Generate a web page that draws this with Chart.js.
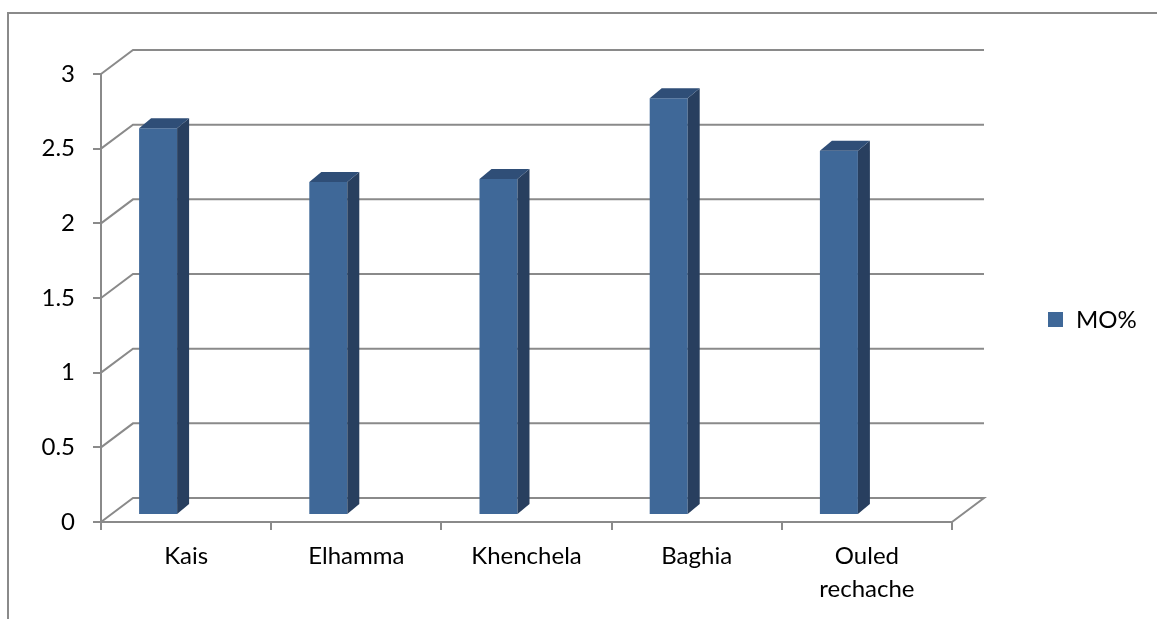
<!DOCTYPE html>
<html><head><meta charset="utf-8">
<script src="https://cdn.jsdelivr.net/npm/chart.js@4"></script>
<style>html,body{margin:0;padding:0;background:#fff;overflow:hidden}canvas{display:block}</style>
</head><body>
<canvas id="c" width="1157" height="619"></canvas>
<script>
// ---- data ----
const categories = ['Kais', 'Elhamma', 'Khenchela', 'Baghia', ['Ouled', 'rechache']];
const seriesName = 'MO%';
const moValues = [2.59, 2.23, 2.25, 2.79, 2.44];
const yTickValues = [0, 0.5, 1, 1.5, 2, 2.5, 3];

// ---- style ----
const FONT = 'Lato, "Open Sans", sans-serif';
const FONT_SIZE = 24;
const GRID = '#8a8a8a';
const FRONT = '#3f6898';
const SIDE = '#283f5f';
const TOP = '#2f4e77';
const WALL_DX = 32, WALL_DY = -24;   // depth of the back wall
const BAR_DX = 12, BAR_DY = -10;     // depth of each bar
const BAR_SHIFT_X = -28, BAR_SHIFT_Y = -7; // bar plane inside the box

const frame3d = {
  id: 'frame3d',
  beforeDraw(chart) {
    const ctx = chart.ctx;
    ctx.save();
    ctx.strokeStyle = GRID;
    ctx.lineWidth = 2;
    ctx.beginPath();
    ctx.moveTo(8, chart.height + 5);
    ctx.lineTo(8, 13);
    ctx.lineTo(chart.width + 5, 13);
    ctx.stroke();
    ctx.restore();
  },
  beforeDatasetsDraw(chart) {
    const ctx = chart.ctx;
    const ys = chart.scales.y;
    const a = chart.chartArea;
    ctx.save();
    ctx.strokeStyle = GRID;
    ctx.lineWidth = 2;
    yTickValues.forEach(v => {
      const y = ys.getPixelForValue(v);
      ctx.beginPath();
      ctx.moveTo(a.left, y);
      ctx.lineTo(a.left + WALL_DX, y + WALL_DY);
      ctx.lineTo(a.right + WALL_DX, y + WALL_DY);
      if (v === 0) ctx.lineTo(a.right, y);
      ctx.stroke();
    });
    ctx.restore();
    ctx.save();
    ctx.translate(BAR_SHIFT_X, BAR_SHIFT_Y);
  },
  afterDatasetsDraw(chart) {
    const ctx = chart.ctx;
    const meta = chart.getDatasetMeta(0);
    meta.data.forEach(bar => {
      const p = bar.getProps(['x', 'y', 'base', 'width'], true);
      const l = p.x - p.width / 2, r = p.x + p.width / 2;
      ctx.fillStyle = SIDE;
      ctx.beginPath();
      ctx.moveTo(r, p.y);
      ctx.lineTo(r + BAR_DX, p.y + BAR_DY);
      ctx.lineTo(r + BAR_DX, p.base + BAR_DY);
      ctx.lineTo(r, p.base);
      ctx.closePath();
      ctx.fill();
      ctx.fillStyle = TOP;
      ctx.beginPath();
      ctx.moveTo(l, p.y);
      ctx.lineTo(l + BAR_DX, p.y + BAR_DY);
      ctx.lineTo(r + BAR_DX, p.y + BAR_DY);
      ctx.lineTo(r, p.y);
      ctx.closePath();
      ctx.fill();
    });
    ctx.restore();
  },
  afterDraw(chart) {
    const ctx = chart.ctx;
    const ds = chart.data.datasets[0];
    ctx.save();
    ctx.fillStyle = ds.backgroundColor;
    ctx.fillRect(1048, 312, 15, 15);
    ctx.fillStyle = '#000';
    ctx.font = FONT_SIZE + 'px ' + FONT;
    ctx.textBaseline = 'middle';
    ctx.textAlign = 'left';
    ctx.fillText(ds.label, 1076, 320);
    ctx.restore();
  }
};

new Chart(document.getElementById('c'), {
  type: 'bar',
  data: {
    labels: categories,
    datasets: [{
      label: seriesName,
      data: moValues,
      backgroundColor: FRONT,
      borderWidth: 0,
      categoryPercentage: 1,
      barPercentage: 38 / 170.2
    }]
  },
  options: {
    responsive: false,
    animation: false,
    devicePixelRatio: 1,
    layout: { padding: { top: 74, right: 205, left: 0, bottom: 0 } },
    plugins: { legend: { display: false }, tooltip: { enabled: false } },
    scales: {
      x: {
        offset: true,
        grid: { offset: true, drawOnChartArea: false, tickLength: 8, color: GRID, lineWidth: 2 },
        border: { display: true, color: GRID, width: 2 },
        ticks: { color: '#000', padding: 10, maxRotation: 0, autoSkip: false,
                 font: { family: FONT, size: FONT_SIZE, lineHeight: 33 / FONT_SIZE } },
        afterFit(s) { s.height = 97; }
      },
      y: {
        min: 0, max: 3,
        afterBuildTicks(s) { s.ticks = yTickValues.map(v => ({ value: v })); },
        grid: { drawOnChartArea: false, tickLength: 8, color: GRID, lineWidth: 2 },
        border: { display: true, color: GRID, width: 2 },
        ticks: { color: '#000', padding: 18, callback: v => String(v),
                 font: { family: FONT, size: FONT_SIZE } },
        afterFit(s) { s.width = 101; }
      }
    }
  },
  plugins: [frame3d]
});
</script>
</body></html>
